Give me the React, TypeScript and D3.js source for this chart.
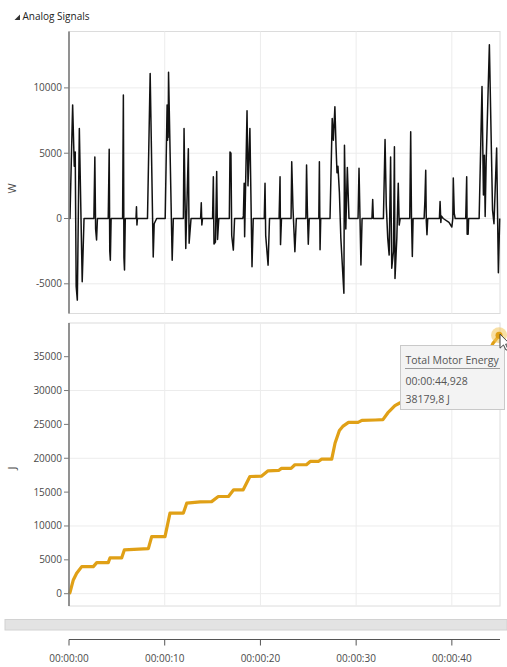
import React from "react";
import * as d3 from "d3";

// Motor power signal (seconds, watts)
const powerT = [
  0.0, 0.1, 0.38, 0.55, 0.65, 0.75, 0.87, 1.08, 1.38, 1.57,
  2.6, 2.7, 2.78, 2.88, 2.97,
  4.1, 4.2, 4.26, 4.32, 4.4,
  5.6, 5.68, 5.74, 5.8, 5.88,
  7.0, 7.05, 7.1, 7.15,
  8.2, 8.48, 8.8, 8.9, 9.16,
  10.05, 10.25, 10.3, 10.33, 10.36, 10.4, 10.78, 10.9,
  11.95, 12.02, 12.1, 12.2, 12.47, 12.55, 12.75,
  13.75, 13.82, 13.88, 13.95,
  15.0, 15.08, 15.15, 15.3, 15.43, 15.52, 15.65,
  16.75, 16.82, 16.92, 17.0, 17.17, 17.3,
  18.15, 18.22, 18.3, 18.35, 18.6, 18.7, 18.9, 19.12, 19.25,
  20.4, 20.48, 20.55, 20.8, 20.95,
  21.95, 22.05, 22.1, 22.2,
  23.2, 23.27, 23.4, 23.6, 23.75,
  24.75, 24.82, 24.9, 25.0, 25.1,
  26.1, 26.16, 26.23, 26.3,
  27.27, 27.5, 27.62, 27.78, 27.9, 28.0, 28.1, 28.25, 28.4, 28.72, 28.78, 28.92, 29.08, 29.25,
  30.2, 30.3, 30.5, 30.62,
  31.65, 31.73, 31.8,
  32.85, 33.02, 33.15, 33.3, 33.45, 33.6, 33.72, 33.9, 34.0, 34.06, 34.25, 34.4, 34.5, 34.6,
  35.6, 35.7, 35.78, 35.87, 35.95,
  37.1, 37.18, 37.27, 37.33, 37.4, 37.48,
  38.7, 38.77, 38.85, 38.9, 39.1, 39.7, 40.0, 40.1, 40.15, 40.25, 40.35,
  41.45, 41.55, 41.6, 41.7, 41.75,
  42.85, 43.15, 43.3, 43.4, 43.48, 43.58, 43.92, 44.25, 44.4, 44.68, 44.86, 45.0,
];
const powerW = [
  0, 0, 8700, 4000, 5100, -5200, -6250, 6900, -4850, 0,
  0, 4700, -800, -1650, 0,
  0, 5300, -2500, -3200, 0,
  0, 9450, -3000, -3950, 0,
  0, 900, -500, 0,
  0, 11100, -2940, -400, 0,
  0, 8700, 6000, 8500, 6200, 11200, -3200, 0,
  0, 6900, 2500, -2300, 5350, -1900, 0,
  0, 1200, -500, 0,
  0, 3200, -1950, -1800, 3600, -1600, 0,
  0, 5100, 5000, -1300, -2420, 0,
  0, 200, 2700, -1400, 8250, 2500, 6900, -3700, 0,
  0, 2700, -1300, -3570, 0,
  0, 3200, -2000, 0,
  0, 4350, 800, -2550, 0,
  0, 4100, 800, -1970, 0,
  0, 4350, -2400, 0,
  0, 7650, 6000, 8550, 5500, 3500, 4000, 2000, -1500, -5720, 5600, -800, 3900, 0,
  0, 3850, -3560, 0,
  0, 1450, 0,
  0, 6050, 1000, -1500, -2800, 4700, -3800, -2500, 5500, -4600, -1500, 2700, -500, 0,
  0, 6650, 200, -2900, 0,
  0, 1300, 3700, -200, -1250, 0,
  0, 1300, -300, 200, 0, -300, -650, 0, 3100, 400, 0,
  0, 3200, -1200, -1200, 0,
  0, 10100, 1800, 4850, 150, 4200, 13300, 650, -400, 5400, -4150, 0,
];

// Accumulated motor energy (seconds, joules)
const energyT = [
  0, 0.1, 0.45, 0.8, 1.33, 2.54, 2.9, 4.1, 4.28, 5.5, 5.78, 8.29, 8.64, 10.03,
  10.55, 11.95, 12.3, 13.7, 14.9, 15.6, 16.66, 17.2, 18.2, 18.9, 20.1, 20.8,
  21.9, 22.2, 23.2, 23.6, 24.8, 25.2, 26.05, 26.4, 27.45, 27.8, 28.25, 28.6,
  29.2, 30.2, 30.6, 32.0, 32.8, 33.3, 34.05, 34.6, 35.6, 35.9, 37.1, 37.4,
  38.7, 39.0, 40.1, 40.4, 41.5, 41.75, 42.85, 43.3, 43.6, 44.0, 44.3, 44.7, 44.928,
];
const energyJ = [
  0, 150, 2030, 3020, 4000, 4000, 4590, 4590, 5280, 5280, 6470, 6660, 8430, 8430,
  11900, 11900, 13370, 13560, 13600, 14350, 14350, 15340, 15340, 17310, 17350, 18150,
  18200, 18500, 18500, 19040, 19040, 19530, 19530, 19880, 19880, 22250, 24110, 24700,
  25300, 25300, 25590, 25650, 25700, 26690, 27770, 28200, 28250, 29100, 29150, 29700,
  29750, 30100, 30200, 30800, 30850, 31400, 31450, 33200, 34400, 36000, 37000, 37700, 38179.8,
];

const powerTicks = [-5000, 0, 5000, 10000];
const energyTicks = [0, 5000, 10000, 15000, 20000, 25000, 30000, 35000];
const energyGrid = [0, 10000, 20000, 30000];
const timeTicks = [0, 10, 20, 30, 40];

const groupTitle = "Analog Signals";
const powerUnit = "W";
const energyUnit = "J";
const tipSeries = "Total Motor Energy";
const tipTime = "00:00:44,928";
const tipValue = "38179,8 J";

const FONT = "'Open Sans', 'Noto Sans', sans-serif";

const fmtTime = (s: number) => {
  const h = Math.floor(s / 3600);
  const m = Math.floor((s % 3600) / 60);
  const sec = Math.floor(s % 60);
  const p = (n: number) => String(n).padStart(2, "0");
  return `${p(h)}:${p(m)}:${p(sec)}`;
};

export default function App() {
  const W = 507;
  const H = 667;
  const left = 69;
  const right = 500;

  const x = d3.scaleLinear().domain([0, 45.03]).range([left, right]);

  const top1 = 31.5, bot1 = 313.5;
  const top2 = 323, bot2 = 606;
  const yP = d3.scaleLinear().domain([-7274, 14319]).range([bot1, top1]);
  const yE = d3.scaleLinear().domain([-1816, 39973]).range([bot2, top2]);

  const powerLine = d3
    .line<number>()
    .x((_, i) => x(powerT[i]))
    .y((v) => yP(v));
  const energyLine = d3
    .line<number>()
    .x((_, i) => x(energyT[i]))
    .y((v) => yE(v));

  const lastIdx = energyJ.length - 1;
  const hx = x(energyT[lastIdx]);
  const hy = yE(energyJ[lastIdx]);

  const gridColor = "#ececec";
  const frameColor = "#dcdcdc";
  const axisColor = "#7a7a7a";
  const labelColor = "#4a4a4a";

  const axisY = 639.5;

  return (
    <svg
      width={W}
      height={H}
      style={{ position: "absolute", left: 0, top: 0, background: "#fff" }}
      fontFamily={FONT}
    >
      {/* group header */}
      <path d="M20,14.5 L20,20 L14.5,20 Z" fill="#333" />
      <text x={22.5} y={20} fontSize={10} fill="#222">
        {groupTitle}
      </text>

      {/* power panel */}
      <rect x={left} y={top1} width={right - left} height={bot1 - top1} fill="#fff" stroke={frameColor} />
      {timeTicks.slice(1).map((t) => (
        <line key={"pv" + t} x1={x(t)} x2={x(t)} y1={top1} y2={bot1} stroke={gridColor} />
      ))}
      {powerTicks.map((v) => (
        <line key={"ph" + v} x1={left} x2={right} y1={yP(v)} y2={yP(v)} stroke={gridColor} />
      ))}
      <path d={powerLine(powerW) || ""} fill="none" stroke="#121212" strokeWidth={1.5} strokeLinejoin="round" />
      <line x1={left} x2={left} y1={top1} y2={bot1} stroke={axisColor} strokeWidth={1.6} />
      {powerTicks.map((v) => (
        <g key={"pt" + v}>
          <line x1={left - 5} x2={left} y1={yP(v)} y2={yP(v)} stroke={axisColor} />
          <text x={left - 7} y={yP(v)} dy="0.35em" textAnchor="end" fontSize={10} fill={labelColor}>
            {v}
          </text>
        </g>
      ))}
      <text
        transform={`translate(16,${(top1 + bot1) / 2 + 16}) rotate(-90)`}
        textAnchor="middle"
        fontSize={11}
        fill={labelColor}
      >
        {powerUnit}
      </text>

      {/* energy panel */}
      <rect x={left} y={top2} width={right - left} height={bot2 - top2} fill="#fff" stroke={frameColor} />
      {timeTicks.slice(1).map((t) => (
        <line key={"ev" + t} x1={x(t)} x2={x(t)} y1={top2} y2={bot2} stroke={gridColor} />
      ))}
      {energyGrid.map((v) => (
        <line key={"eh" + v} x1={left} x2={right} y1={yE(v)} y2={yE(v)} stroke={gridColor} />
      ))}
      <path d={energyLine(energyJ) || ""} fill="none" stroke="#E0A016" strokeWidth={3.2} strokeLinejoin="round" />
      <line x1={left} x2={left} y1={top2} y2={bot2} stroke={axisColor} strokeWidth={1.6} />
      {energyTicks.map((v) => (
        <g key={"et" + v}>
          <line x1={left - 5} x2={left} y1={yE(v)} y2={yE(v)} stroke={axisColor} />
          <text x={left - 7} y={yE(v)} dy="0.35em" textAnchor="end" fontSize={10} fill={labelColor}>
            {v}
          </text>
        </g>
      ))}
      <text
        transform={`translate(16,468) rotate(-90)`}
        textAnchor="middle"
        fontSize={11}
        fill={labelColor}
      >
        {energyUnit}
      </text>

      {/* hovered point */}
      <circle cx={hx} cy={hy} r={8} fill="#F2C45A" fillOpacity={0.55} />
      <circle cx={hx} cy={hy} r={3.5} fill="#E0A016" />

      {/* tooltip */}
      <rect x={400.5} y={345.5} width={104} height={64} fill="#f3f3f3" stroke="#c9c9c9" />
      <text x={405.5} y={364} fontSize={10.5} fill="#555">
        {tipSeries}
      </text>
      <line x1={405} x2={500} y1={368.5} y2={368.5} stroke="#9a9a9a" />
      <text x={405.5} y={385} fontSize={10.5} fill="#555">
        {tipTime}
      </text>
      <text x={405.5} y={403} fontSize={10.5} fill="#555">
        {tipValue}
      </text>

      {/* mouse pointer */}
      <path
        d="M0,0 L0,14 L3.5,10.8 L6,16 L8,15 L5.6,10 L10,10 Z"
        transform={`translate(${hx + 1},${hy - 1}) `}
        fill="#fff"
        stroke="#333"
        strokeWidth={0.9}
        strokeLinejoin="round"
      />

      {/* range scrollbar */}
      <rect x={5} y={619.5} width={502} height={10.5} fill="#e3e3e3" stroke="#d2d2d2" />

      {/* time axis */}
      <line x1={left} x2={right} y1={axisY} y2={axisY} stroke="#555" strokeWidth={1} />
      {timeTicks.map((t) => (
        <g key={"tt" + t}>
          <line x1={x(t)} x2={x(t)} y1={axisY} y2={axisY + 6} stroke="#555" />
          <text x={x(t)} y={662} textAnchor="middle" fontSize={10} fill={labelColor}>
            {fmtTime(t)}
          </text>
        </g>
      ))}
    </svg>
  );
}
